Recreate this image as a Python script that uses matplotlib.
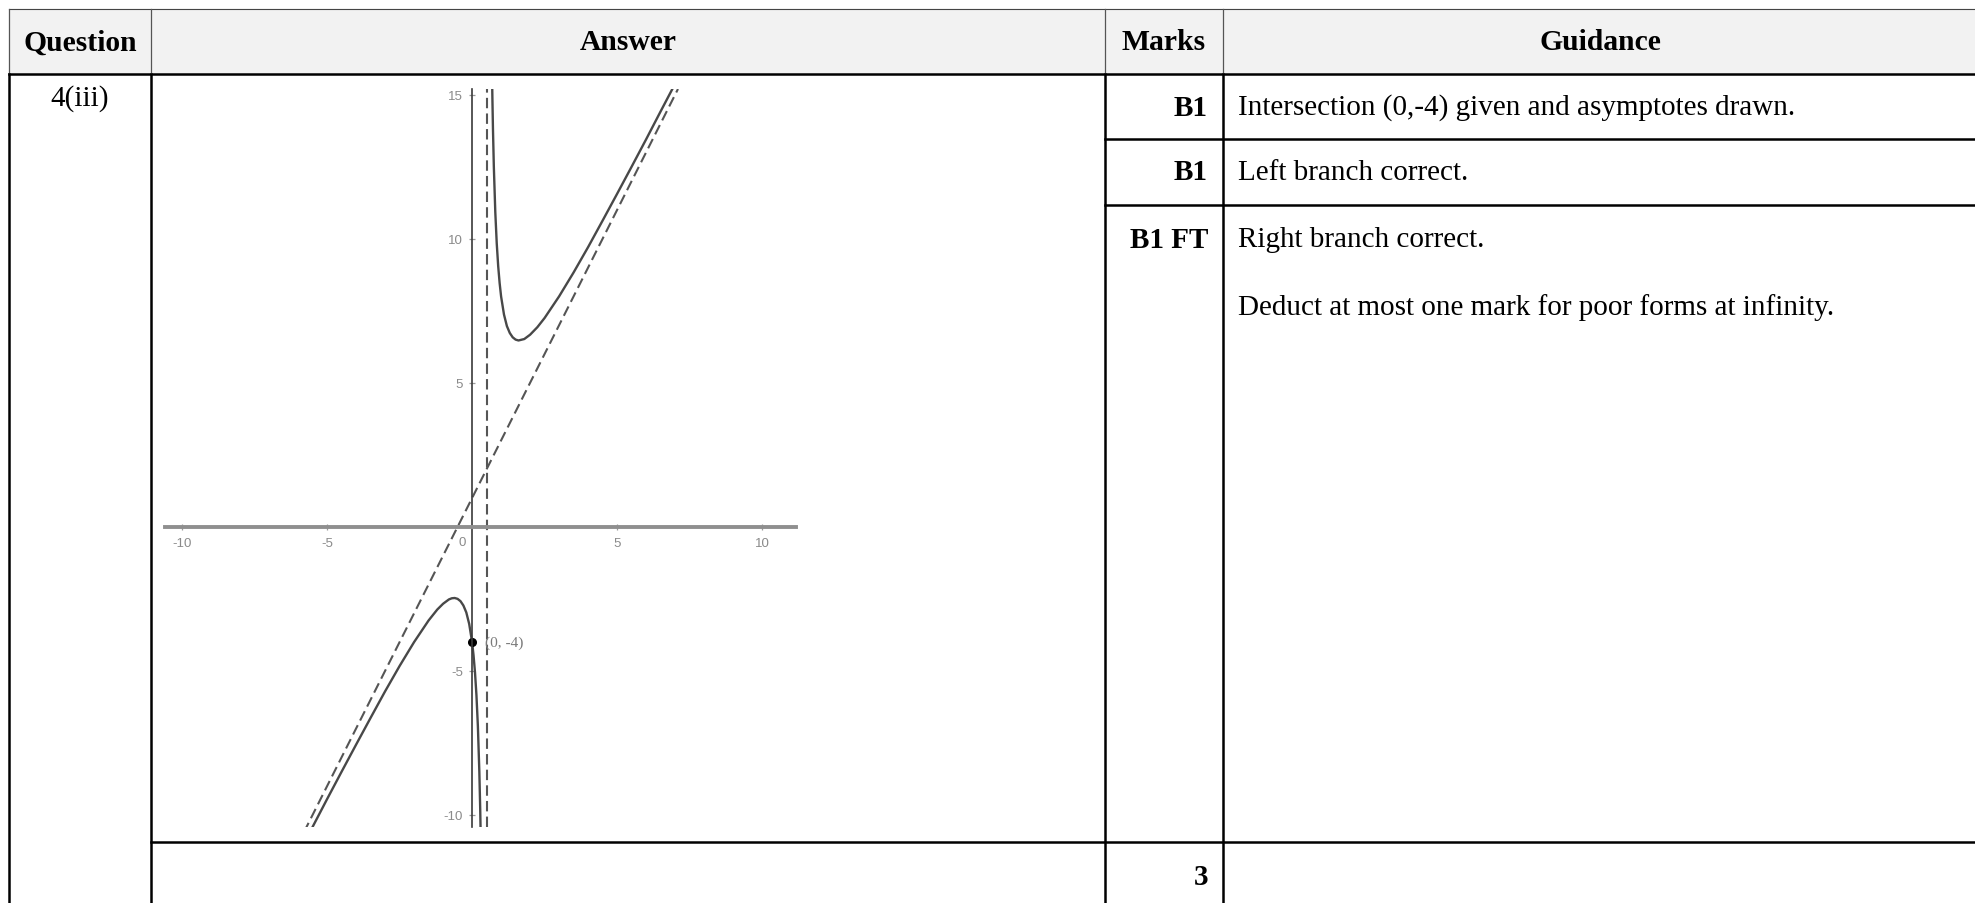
import numpy as np
import matplotlib
matplotlib.use('Agg')
import matplotlib.pyplot as plt

# textos da tabela
cabecalhos = ['Question', 'Answer', 'Marks', 'Guidance']
questao = '4(iii)'
notas = ['B1', 'B1', 'B1 FT']
orientacoes = ['Intersection (0,-4) given and asymptotes drawn.',
               'Left branch correct.',
               'Right branch correct.',
               'Deduct at most one mark for poor forms at infinity.']
total = '3'

# pontos (ramo direito e ramo esquerdo)
dir_x = [0.69, 0.7, 0.72, 0.75, 0.8, 0.85, 0.9, 0.95, 1.0, 1.1, 1.2, 1.3, 1.4, 1.5, 1.6, 1.8, 2.0,
         2.25, 2.5, 3.0, 3.5, 4.0, 4.5, 5.0, 5.5, 6.0, 6.5, 7.0]
dir_y = [15.54, 14.9, 13.8, 12.5, 10.93, 9.84, 9.05, 8.46, 8.0, 7.37, 6.97, 6.73, 6.58, 6.5, 6.47, 6.52, 6.67,
         6.93, 7.25, 8.0, 8.83, 9.71, 10.63, 11.56, 12.5, 13.45, 14.42, 15.38]
esq_x = [-5.6, -5.0, -4.5, -4.0, -3.5, -3.0, -2.5, -2.0, -1.5, -1.2, -1.0, -0.8, -0.7, -0.6, -0.5, -0.4, -0.3,
         -0.2, -0.1, 0.0, 0.05, 0.1, 0.15, 0.2, 0.25, 0.28, 0.3]
esq_y = [-10.61, -9.45, -8.5, -7.56, -6.63, -5.71, -4.83, -4.0, -3.25, -2.87, -2.67, -2.52, -2.48, -2.47, -2.5,
         -2.58, -2.73, -2.97, -3.37, -4.0, -4.46, -5.05, -5.84, -6.93, -8.5, -9.8, -10.9]

# assintotas
assint_x = [-5.8, 7.1]
assint_y = [-10.6, 15.2]
assint_vert = 0.5

# ponto marcado
ponto_x, ponto_y = 0, -4
ponto_txt = '(0, -4)'

ticks_x = [-10, -5, 5, 10]
ticks_y = [-10, -5, 5, 10, 15]

W, H = 1975, 904
fig = plt.figure(figsize=(W / 100, H / 100), dpi=100)
ax = fig.add_axes([0, 0, 1, 1])
ax.set_xlim(0, W)
ax.set_ylim(H, 0)
ax.axis('off')

# cabecalho cinza
ax.fill_between([9, W], 10, 75, color='#f2f2f2', zorder=0)

lw = 1.8
ax.plot([9, W], [10, 10], color='#444444', lw=0.8)
ax.plot([9, W], [75, 75], color='black', lw=lw)
for xc in [9, 151, 1105, 1223]:
    ax.plot([xc, xc], [10, 75], color='#555555', lw=0.9)
    ax.plot([xc, xc], [75, H], color='black', lw=lw)
ax.plot([1105, W], [140, 140], color='black', lw=lw)
ax.plot([1105, W], [206, 206], color='black', lw=lw)
ax.plot([151, W], [843, 843], color='black', lw=lw)

fonte = 'Liberation Serif'
tam = 21
centros = [80, 628, 1164, 1600]
for c, txt in zip(centros, cabecalhos):
    ax.text(c, 43, txt, ha='center', va='center', fontsize=21.3, fontweight='bold', family=fonte)

ax.text(80, 99, questao, ha='center', va='center', fontsize=tam, family=fonte)

ys_linhas = [108, 173, 240]
for y, n in zip(ys_linhas, notas):
    ax.text(1208, y, n, ha='right', va='center', fontsize=21, fontweight='bold', family=fonte)
for y, g in zip(ys_linhas + [308], orientacoes):
    ax.text(1238, y, g, ha='left', va='center', fontsize=tam, family=fonte)
ax.text(1208, 878, total, ha='right', va='center', fontsize=21, fontweight='bold', family=fonte)

# grafico da resposta
g = fig.add_axes([165 / W, 1 - 828 / H, (796 - 165) / W, (828 - 90) / H])
g.set_xlim(-10.59, 11.17)
g.set_ylim(-10.42, 15.2)
g.patch.set_alpha(0)
for s in ['top', 'right']:
    g.spines[s].set_visible(False)
g.spines['left'].set_position(('data', 0))
g.spines['bottom'].set_position(('data', 0))
g.spines['bottom'].set_color('#8f8f8f')
g.spines['bottom'].set_linewidth(2.8)
g.spines['left'].set_color('#3a3a3a')
g.spines['left'].set_linewidth(1.2)

g.set_xticks(ticks_x)
g.set_xticklabels([str(t) for t in ticks_x])
g.set_yticks(ticks_y)
g.set_yticklabels([str(t) for t in ticks_y])
g.tick_params(axis='both', direction='inout', length=5, width=0.9, colors='#9a9a9a',
              labelsize=9.5, labelcolor='#8a8a8a')
g.tick_params(axis='x', pad=5)
g.tick_params(axis='y', pad=4)
for lab in g.get_xticklabels() + g.get_yticklabels():
    lab.set_family('Liberation Sans')
g.annotate('0', (0, 0), xytext=(-7, -11), textcoords='offset points', ha='center', va='center',
           fontsize=9.5, color='#8a8a8a', family='Liberation Sans')

tr = (0, (5, 2.5))
g.plot(assint_x, assint_y, color='#555555', lw=1.5, linestyle=tr)
g.axvline(assint_vert, color='#555555', lw=1.5, linestyle=tr)
g.plot(dir_x, dir_y, color='#484848', lw=1.7)
g.plot(esq_x, esq_y, color='#484848', lw=1.7)
g.plot(ponto_x, ponto_y, 'o', color='black', markersize=5.5)
g.annotate(ponto_txt, (ponto_x, ponto_y), xytext=(9, 0), textcoords='offset points',
           ha='left', va='center', fontsize=11, color='#7a7a7a', family='Liberation Serif')

fig.savefig('out.png', dpi=100)
